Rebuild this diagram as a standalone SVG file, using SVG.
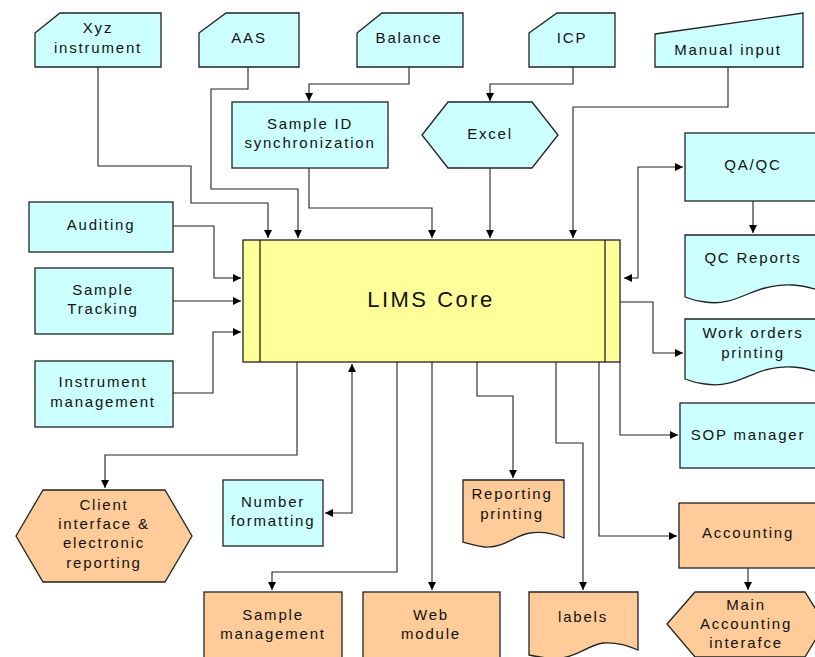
<svg xmlns="http://www.w3.org/2000/svg" width="815" height="657" viewBox="0 0 815 657">
<style>
.c{fill:#CCFFFF;stroke:#222;stroke-width:1.3}
.o{fill:#FFCC99;stroke:#222;stroke-width:1.3}
.y{fill:#FFFF99;stroke:#222;stroke-width:1.3}
text{font-family:"Liberation Sans",Arial,sans-serif;font-size:15px;letter-spacing:1.8px;fill:#111;text-anchor:middle}
.big{font-size:22px;letter-spacing:2.5px}
#connectors path{fill:none;stroke:#222;stroke-width:1.1}
</style>
<defs>
<marker id="a" markerWidth="10" markerHeight="8" refX="8" refY="4" orient="auto-start-reverse" markerUnits="userSpaceOnUse"><path d="M0,0 L8,4 L0,8 Z" fill="#000"/></marker>
</defs>
<rect width="815" height="657" fill="#fff"/>

<g id="connectors">
<path d="M98,67 V166 H191 V203 H268 V238" marker-end="url(#a)"/>
<path d="M248,67 V89 H211 V189 H298 V238" marker-end="url(#a)"/>
<path d="M409,67 V84 H309 V101" marker-end="url(#a)"/>
<path d="M309,168 V208 H432 V238" marker-end="url(#a)"/>
<path d="M573,67 V84 H490 V101" marker-end="url(#a)"/>
<path d="M490,168 V238" marker-end="url(#a)"/>
<path d="M728,67 V107 H573 V238" marker-end="url(#a)"/>
<path d="M173,226 H214 V278 H241" marker-end="url(#a)"/>
<path d="M173,301 H241" marker-end="url(#a)"/>
<path d="M173,393 H213 V332 H241" marker-end="url(#a)"/>
<path d="M624,278 H638 V167 H683" marker-start="url(#a)" marker-end="url(#a)"/>
<path d="M753,201 V233" marker-end="url(#a)"/>
<path d="M620,302 H653 V353 H683" marker-end="url(#a)"/>
<path d="M620,362 V435 H678" marker-end="url(#a)"/>
<path d="M599,362 V536 H677" marker-end="url(#a)"/>
<path d="M748,568 V590" marker-end="url(#a)"/>
<path d="M556,362 V443 H583 V590" marker-end="url(#a)"/>
<path d="M477,362 V396 H513 V478" marker-end="url(#a)"/>
<path d="M432,362 V590" marker-end="url(#a)"/>
<path d="M397,362 V572 H272 V590" marker-end="url(#a)"/>
<path d="M352,364 V513 H325" marker-start="url(#a)" marker-end="url(#a)"/>
<path d="M297,362 V455 H105 V488" marker-end="url(#a)"/>
</g>

<g id="xyz"><path class="c" d="M35,33 L60,13 H161 V67 H35 Z"/><text x="98" y="33">Xyz</text><text x="98" y="53">instrument</text></g>
<g id="aas"><path class="c" d="M199,33 L226,13 H299 V67 H199 Z"/><text x="249" y="43">AAS</text></g>
<g id="balance"><path class="c" d="M357,33 L382,13 H463 V67 H357 Z"/><text x="409" y="43">Balance</text></g>
<g id="icp"><path class="c" d="M529,33 L557,13 H615 V67 H529 Z"/><text x="572" y="43">ICP</text></g>
<g id="manual"><path class="c" d="M655,34 L803,13 V67 H655 Z"/><text x="728" y="55">Manual input</text></g>
<g id="sampleid"><rect class="c" x="232" y="102" width="156" height="66"/><text x="310" y="129">Sample ID</text><text x="310" y="148">synchronization</text></g>
<g id="excel"><path class="c" d="M422,135 L448,102 H532 L558,135 L532,168 H448 Z"/><text x="490" y="139">Excel</text></g>
<g id="qaqc"><rect class="c" x="685" y="133" width="136" height="68"/><text x="753" y="170">QA/QC</text></g>
<g id="qcreports"><path class="c" d="M685,235 H821 V291 C800,284 785,283 765,288 C745,293 730,306 705,302 C697,301 690,299 685,297 Z"/><text x="753" y="263">QC Reports</text></g>
<g id="workorders"><path class="c" d="M685,319 H821 V373 C800,366 785,365 765,370 C745,376 730,388 705,384 C697,383 690,381 685,379 Z"/><text x="753" y="338">Work orders</text><text x="753" y="358">printing</text></g>
<g id="sop"><rect class="c" x="680" y="403" width="141" height="65"/><text x="748" y="440">SOP manager</text></g>
<g id="auditing"><rect class="c" x="29" y="202" width="144" height="50"/><text x="101" y="230">Auditing</text></g>
<g id="tracking"><rect class="c" x="35" y="268" width="138" height="66"/><text x="103" y="295">Sample</text><text x="103" y="314">Tracking</text></g>
<g id="instrument"><rect class="c" x="35" y="361" width="138" height="66"/><text x="103" y="387">Instrument</text><text x="103" y="407">management</text></g>
<g id="lims"><rect class="y" x="243" y="240" width="377" height="122"/><line x1="260" y1="240" x2="260" y2="362" stroke="#222" stroke-width="1.3"/><line x1="605" y1="240" x2="605" y2="362" stroke="#222" stroke-width="1.3"/><text class="big" x="431" y="307">LIMS Core</text></g>
<g id="client"><path class="o" d="M16,536 L43,490 H165 L192,536 L165,582 H43 Z"/><text x="104" y="510">Client</text><text x="104" y="529">interface &amp;</text><text x="104" y="548">electronic</text><text x="104" y="568">reporting</text></g>
<g id="numfmt"><rect class="c" x="223" y="480" width="100" height="66"/><text x="273" y="507">Number</text><text x="273" y="526">formatting</text></g>
<g id="reporting"><path class="o" d="M463,480 H564 V538 C555,534 545,531 530,533 C515,535 505,548 485,547 C477,546 470,544 463,542 Z"/><text x="512" y="499">Reporting</text><text x="512" y="519">printing</text></g>
<g id="accounting"><rect class="o" x="679" y="503" width="142" height="65"/><text x="748" y="538">Accounting</text></g>
<g id="mainacc"><path class="o" d="M667,624 L695,592 H805 L825,624 L805,657 H695 Z"/><text x="746" y="610">Main</text><text x="746" y="629">Accounting</text><text x="746" y="648">interafce</text></g>
<g id="samplemgmt"><rect class="o" x="204" y="592" width="138" height="75"/><text x="273" y="620">Sample</text><text x="273" y="639">management</text></g>
<g id="web"><rect class="o" x="363" y="592" width="137" height="75"/><text x="431" y="620">Web</text><text x="431" y="639">module</text></g>
<g id="labels"><path class="o" d="M529,592 H638 V650 C628,646 618,642 603,643 C588,645 578,657 560,658 C548,659 538,657 529,655 Z"/><text x="583" y="622">labels</text></g>
</svg>
